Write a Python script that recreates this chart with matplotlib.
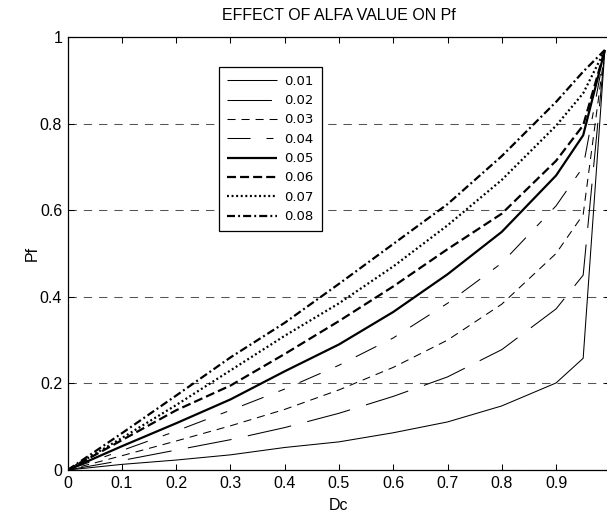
import matplotlib
matplotlib.use("Agg")
import matplotlib.pyplot as plt

plt.rcParams["font.family"] = ["Liberation Sans", "DejaVu Sans"]
plt.rcParams["lines.scale_dashes"] = False

# Dc sample points
dc = [0.0, 0.1, 0.2, 0.3, 0.4, 0.5, 0.6, 0.7, 0.8, 0.9, 0.95, 0.99]

# Pf for each alfa value
alfa_labels = ["0.01", "0.02", "0.03", "0.04", "0.05", "0.06", "0.07", "0.08"]
pf_001 = [0, 0.013, 0.023, 0.035, 0.052, 0.065, 0.086, 0.111, 0.148, 0.201, 0.258, 0.97]
pf_002 = [0, 0.022, 0.046, 0.070, 0.098, 0.131, 0.170, 0.215, 0.278, 0.372, 0.450, 0.97]
pf_003 = [0, 0.033, 0.067, 0.102, 0.140, 0.185, 0.237, 0.300, 0.383, 0.500, 0.590, 0.97]
pf_004 = [0, 0.045, 0.090, 0.138, 0.187, 0.242, 0.305, 0.385, 0.478, 0.610, 0.700, 0.97]
pf_005 = [0, 0.055, 0.108, 0.163, 0.228, 0.290, 0.365, 0.452, 0.550, 0.680, 0.773, 0.97]
pf_006 = [0, 0.069, 0.138, 0.195, 0.268, 0.344, 0.424, 0.510, 0.592, 0.714, 0.796, 0.97]
pf_007 = [0, 0.074, 0.150, 0.230, 0.310, 0.385, 0.470, 0.565, 0.670, 0.795, 0.870, 0.97]
pf_008 = [0, 0.085, 0.172, 0.260, 0.340, 0.430, 0.522, 0.614, 0.725, 0.850, 0.920, 0.97]
series = [pf_001, pf_002, pf_003, pf_004, pf_005, pf_006, pf_007, pf_008]

# line styles: (linewidth, dash pattern in points or None for solid)
styles = [
    (0.75, None),
    (0.75, (32, 12)),
    (0.75, (5.8, 4.3)),
    (0.75, (16.6, 11.5, 5, 11.5)),
    (1.6, None),
    (1.6, (6.5, 2.9)),
    (1.6, (1.4, 1.9)),
    (1.6, (5.8, 2.2, 1.4, 2.2)),
]

fig = plt.figure(figsize=(6.07, 5.13), dpi=100)
ax = fig.add_axes([67.7 / 607, 43 / 513, 542.6 / 607, 433 / 513])

for vals, lab, (lw, dash) in zip(series, alfa_labels, styles):
    kw = dict(color="black", lw=lw, label=lab, solid_capstyle="butt",
              dash_capstyle="butt", solid_joinstyle="miter")
    if dash is not None:
        kw["dashes"] = dash
    ax.plot(dc, vals, **kw)

ax.set_xlim(0, 1)
ax.set_ylim(0, 1)

xt = [0, 0.1, 0.2, 0.3, 0.4, 0.5, 0.6, 0.7, 0.8, 0.9, 1.0]
ax.set_xticks(xt)
ax.set_xticklabels(["0", "0.1", "0.2", "0.3", "0.4", "0.5", "0.6", "0.7", "0.8", "0.9", ""])
yt = [0, 0.2, 0.4, 0.6, 0.8, 1.0]
ax.set_yticks(yt)
ax.set_yticklabels(["0", "0.2", "0.4", "0.6", "0.8", "1"])

ax.tick_params(direction="in", length=4, width=0.75, top=True, right=True,
               labelsize=11.5, pad=4)
for sp in ax.spines.values():
    sp.set_linewidth(0.9)
    sp.set_color("black")

ax.yaxis.grid(True, color="#555555", lw=0.75, dashes=(6, 5))
ax.xaxis.grid(False)
ax.set_axisbelow(True)

ax.set_title("EFFECT OF ALFA VALUE ON Pf", fontsize=11.5, pad=12)
ax.set_xlabel("Dc", fontsize=11.5, labelpad=5)
ax.set_ylabel("Pf", fontsize=11.5, labelpad=0)

leg = ax.legend(loc="upper left", bbox_to_anchor=(0.279, 0.931), borderaxespad=0,
                prop={"family": "DejaVu Sans", "size": 9.5},
                handlelength=3.8, handletextpad=0.55, labelspacing=0.48,
                borderpad=0.6, fancybox=False, framealpha=1, edgecolor="black")
leg.get_frame().set_linewidth(0.9)

fig.savefig("out.png", dpi=100)
